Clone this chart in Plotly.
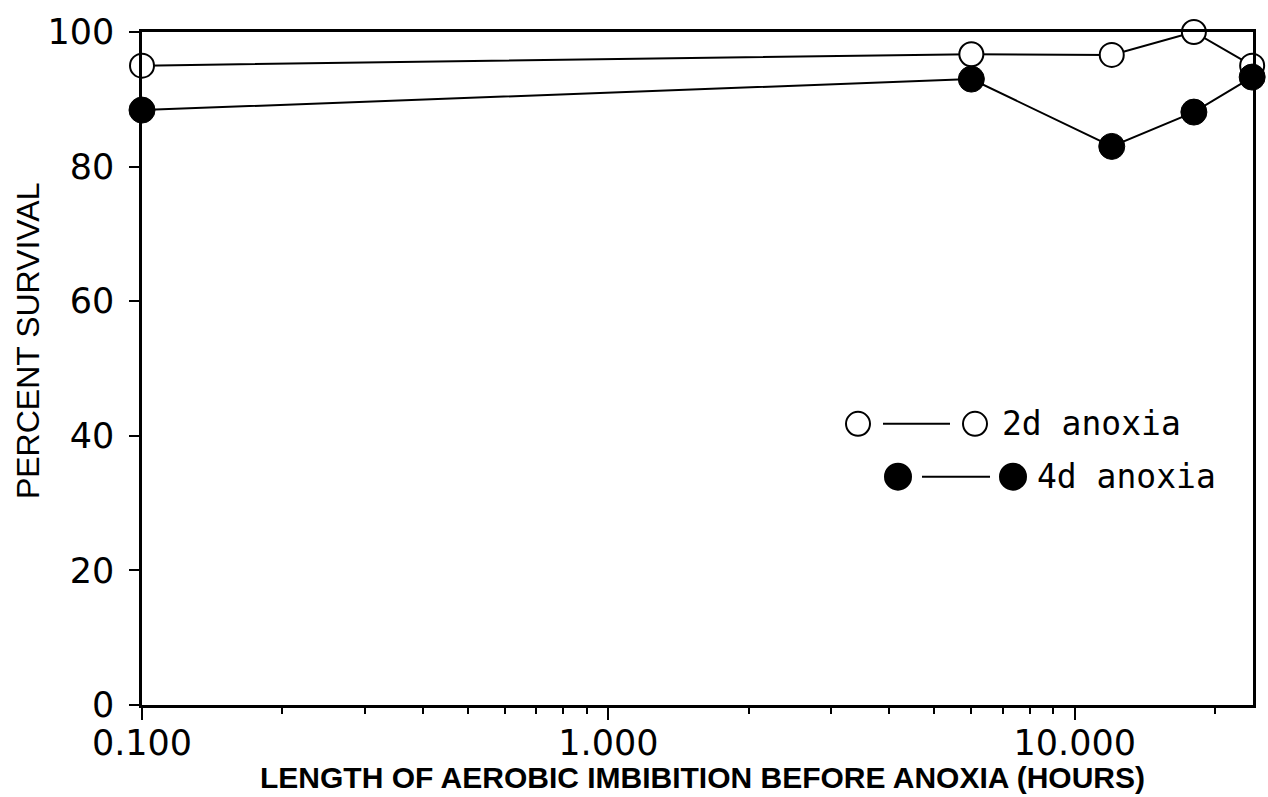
import math
import plotly.graph_objects as go

# ---- data ----
hours = [0.1, 6.0, 12.0, 18.0, 24.0]
survival_2d = [95.0, 96.7, 96.6, 100.0, 95.0]
survival_4d = [88.4, 93.0, 83.0, 88.1, 93.3]

x_major = [0.1, 1.0, 10.0]
x_major_labels = ["0.100", "1.000", "10.000"]
x_minor = [m * d for d in (0.1, 1.0, 10.0) for m in range(2, 10) if m * d <= 24]
y_ticks = [0, 20, 40, 60, 80, 100]

x_title = "LENGTH OF AEROBIC IMBIBITION BEFORE ANOXIA (HOURS)"
y_title = "PERCENT SURVIVAL"
legend_labels = ["2d anoxia", "4d anoxia"]

# ---- figure ----
W, H = 1268, 797
L, R, T, B = 142, 15, 30, 92
pw, ph = W - L - R, H - T - B

def px(x):
    return (x - L) / pw

def py(y):
    return (H - B - y) / ph

fig = go.Figure()
fig.add_trace(go.Scatter(
    x=hours, y=survival_2d, mode="lines+markers", name=legend_labels[0],
    line=dict(color="black", width=2),
    marker=dict(symbol="circle", size=24, color="white", line=dict(color="black", width=2)),
    cliponaxis=False, showlegend=False))
fig.add_trace(go.Scatter(
    x=hours, y=survival_4d, mode="lines+markers", name=legend_labels[1],
    line=dict(color="black", width=2),
    marker=dict(symbol="circle", size=26, color="black", line=dict(color="black", width=1)),
    cliponaxis=False, showlegend=False))

tickfont = dict(family="DejaVu Sans", size=35, color="black")

fig.update_xaxes(
    type="log", range=[-1, math.log10(24.1)], showline=True, mirror=True, linecolor="black", linewidth=2.5,
    ticks="outside", ticklen=12, tickwidth=2, tickcolor="black",
    tickmode="array", tickvals=x_major, ticktext=x_major_labels, tickfont=tickfont,
    ticklabelstandoff=-7,
    minor=dict(tickmode="array", tickvals=x_minor, ticks="outside", ticklen=6, tickwidth=2, tickcolor="black"),
    showgrid=False, zeroline=False)
fig.update_yaxes(
    range=[0, 100], showline=True, mirror=True, linecolor="black", linewidth=2.5,
    ticks="outside", ticklen=10, tickwidth=2, tickcolor="black",
    tickmode="array", tickvals=y_ticks, tickfont=tickfont, ticklabelstandoff=8,
    showgrid=False, zeroline=False)

annotations = [
    dict(text=x_title, xref="paper", yref="paper", x=px(702), y=py(778),
         xanchor="center", yanchor="middle", showarrow=False,
         font=dict(family="Liberation Sans", size=30, color="black", weight="bold")),
    dict(text=y_title, xref="paper", yref="paper", x=px(28), y=py(340),
         xanchor="center", yanchor="middle", showarrow=False, textangle=-90,
         font=dict(family="Liberation Sans", size=32, color="black")),
]

# custom legend
leg_font = dict(family="DejaVu Sans Mono", size=33, color="black")
rows = [
    dict(c1=858, c2=975, l0=883, l1=950, y=423, tx=1000, fill="white", r=12, label=legend_labels[0]),
    dict(c1=898, c2=1013, l0=922, l1=990, y=476, tx=1035, fill="black", r=13, label=legend_labels[1]),
]
shapes = []
for row in rows:
    shapes.append(dict(type="line", xref="paper", yref="paper",
                       x0=px(row["l0"]), x1=px(row["l1"]), y0=py(row["y"]), y1=py(row["y"]),
                       line=dict(color="black", width=2)))
    for c in (row["c1"], row["c2"]):
        shapes.append(dict(type="circle", xref="paper", yref="paper",
                           xsizemode="pixel", ysizemode="pixel",
                           xanchor=px(c), yanchor=py(row["y"]),
                           x0=-row["r"], x1=row["r"], y0=-row["r"], y1=row["r"],
                           fillcolor=row["fill"], line=dict(color="black", width=2)))
    annotations.append(dict(text=row["label"], xref="paper", yref="paper",
                            x=px(row["tx"]), y=py(row["y"]), xanchor="left", yanchor="middle",
                            showarrow=False, font=leg_font))

fig.update_layout(
    width=W, height=H, margin=dict(l=L, r=R, t=T, b=B),
    paper_bgcolor="white", plot_bgcolor="white",
    annotations=annotations, shapes=shapes, showlegend=False)

fig.write_html("out.html")
